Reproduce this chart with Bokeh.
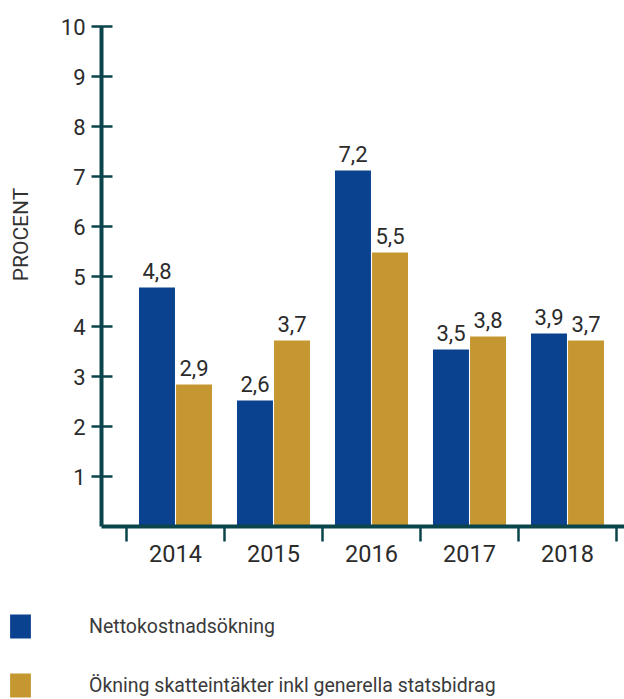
import math
from bokeh.plotting import figure
from bokeh.models import (Range1d, LinearAxis, FixedTicker, ColumnDataSource, LabelSet,
                          Legend, LegendItem, Label)
from bokeh.core.properties import value
from bokeh.embed import file_html
from bokeh.resources import INLINE

# ---- data ----
years = ["2014", "2015", "2016", "2017", "2018"]
netto = [4.78, 2.52, 7.12, 3.54, 3.86]          # bar heights
skatt = [2.84, 3.72, 5.48, 3.80, 3.72]
netto_labels = ["4,8", "2,6", "7,2", "3,5", "3,9"]
skatt_labels = ["2,9", "3,7", "5,5", "3,8", "3,7"]
y_ticks = [1, 2, 3, 4, 5, 6, 7, 8, 9, 10]
y_title = "PROCENT"
legend_labels = ["Nettokostnadsökning", "Ökning skatteintäkter inkl generella statsbidrag"]

BLUE = "#0a428f"
GOLD = "#c59730"
AXIS = "#0b454c"
TEXT = "#2b2b2b"
FONT = "Roboto"

W, H = 624, 699
CAT_PX = 98.0      # pixels per category
Y_PX = 50.0        # pixels per percent
X0_PX = 126.0      # first category boundary
Y0_PX = 526.0      # y = 0 from top
YAX_PX = 101.0     # y-axis position

centers = [i + 0.5 for i in range(len(years))]
off = 0.189
bw = 0.367
src = ColumnDataSource(dict(
    xb=[c - off for c in centers], xg=[c + off for c in centers],
    netto=netto, skatt=skatt, nl=netto_labels, sl=skatt_labels))

x_start = -X0_PX / CAT_PX
x_end = (W - X0_PX) / CAT_PX
y_start = -(H - Y0_PX) / Y_PX
y_end = Y0_PX / Y_PX
yax_x = (YAX_PX - X0_PX) / CAT_PX

p = figure(width=W, height=H, output_backend="svg", toolbar_location=None,
           x_range=Range1d(x_start, x_end), y_range=Range1d(y_start, y_end),
           x_axis_location=None, y_axis_location=None, min_border=0)
p.outline_line_color = None
p.xgrid.visible = False
p.ygrid.visible = False

rb = p.vbar(x="xb", top="netto", width=bw, source=src, fill_color=BLUE, line_color=None)
rg = p.vbar(x="xg", top="skatt", width=bw, source=src, fill_color=GOLD, line_color=None)

for xf, yf, tf in (("xb", "netto", "nl"), ("xg", "skatt", "sl")):
    p.add_layout(LabelSet(x=xf, y=yf, text=tf, source=src, text_align="center",
                          text_baseline="alphabetic", y_offset=9,
                          text_font=value(FONT), text_font_size="22px", text_color=TEXT))

yax = LinearAxis(ticker=FixedTicker(ticks=y_ticks, minor_ticks=[]),
                 fixed_location=yax_x, bounds=(0, 10))
yax.axis_line_color = AXIS
yax.axis_line_width = 4
yax.major_tick_line_color = AXIS
yax.major_tick_line_width = 2.5
yax.major_tick_in = 11
yax.major_tick_out = 10
yax.minor_tick_line_color = None
yax.major_label_standoff = 6
yax.major_label_text_font = FONT
yax.major_label_text_font_size = "22px"
yax.major_label_text_color = TEXT
p.add_layout(yax, "left")

xax = LinearAxis(ticker=FixedTicker(ticks=centers, minor_ticks=[i for i in range(len(years) + 1)]),
                 fixed_location=0, bounds=(yax_x, x_end))
xax.major_label_overrides = {c: y for c, y in zip(centers, years)}
xax.axis_line_color = AXIS
xax.axis_line_width = 4
xax.major_tick_line_color = None
xax.major_tick_in = 0
xax.major_tick_out = 0
xax.minor_tick_line_color = AXIS
xax.minor_tick_line_width = 2.5
xax.minor_tick_in = 0
xax.minor_tick_out = 15
xax.major_label_standoff = 3
xax.major_label_text_font = FONT
xax.major_label_text_font_size = "23.5px"
xax.major_label_text_color = TEXT
p.add_layout(xax, "below")

p.add_layout(Label(x=20, y=H - 234, x_units="screen", y_units="screen", text=y_title,
                   angle=math.pi / 2, text_align="center", text_baseline="middle",
                   text_font=FONT, text_font_size="21px", text_color="#333333"))

legend = Legend(items=[LegendItem(label=legend_labels[0], renderers=[rb]),
                       LegendItem(label=legend_labels[1], renderers=[rg])],
                location=(7, -1), orientation="vertical",
                glyph_width=26, glyph_height=30, spacing=29, label_standoff=56,
                label_height=30, padding=0, margin=0, border_line_color=None,
                background_fill_alpha=0, label_text_font=FONT,
                label_text_font_size="19.5px", label_text_color="#3a3a3a")
p.add_layout(legend, "center")

open("out.html", "w").write(file_html(p, INLINE))
